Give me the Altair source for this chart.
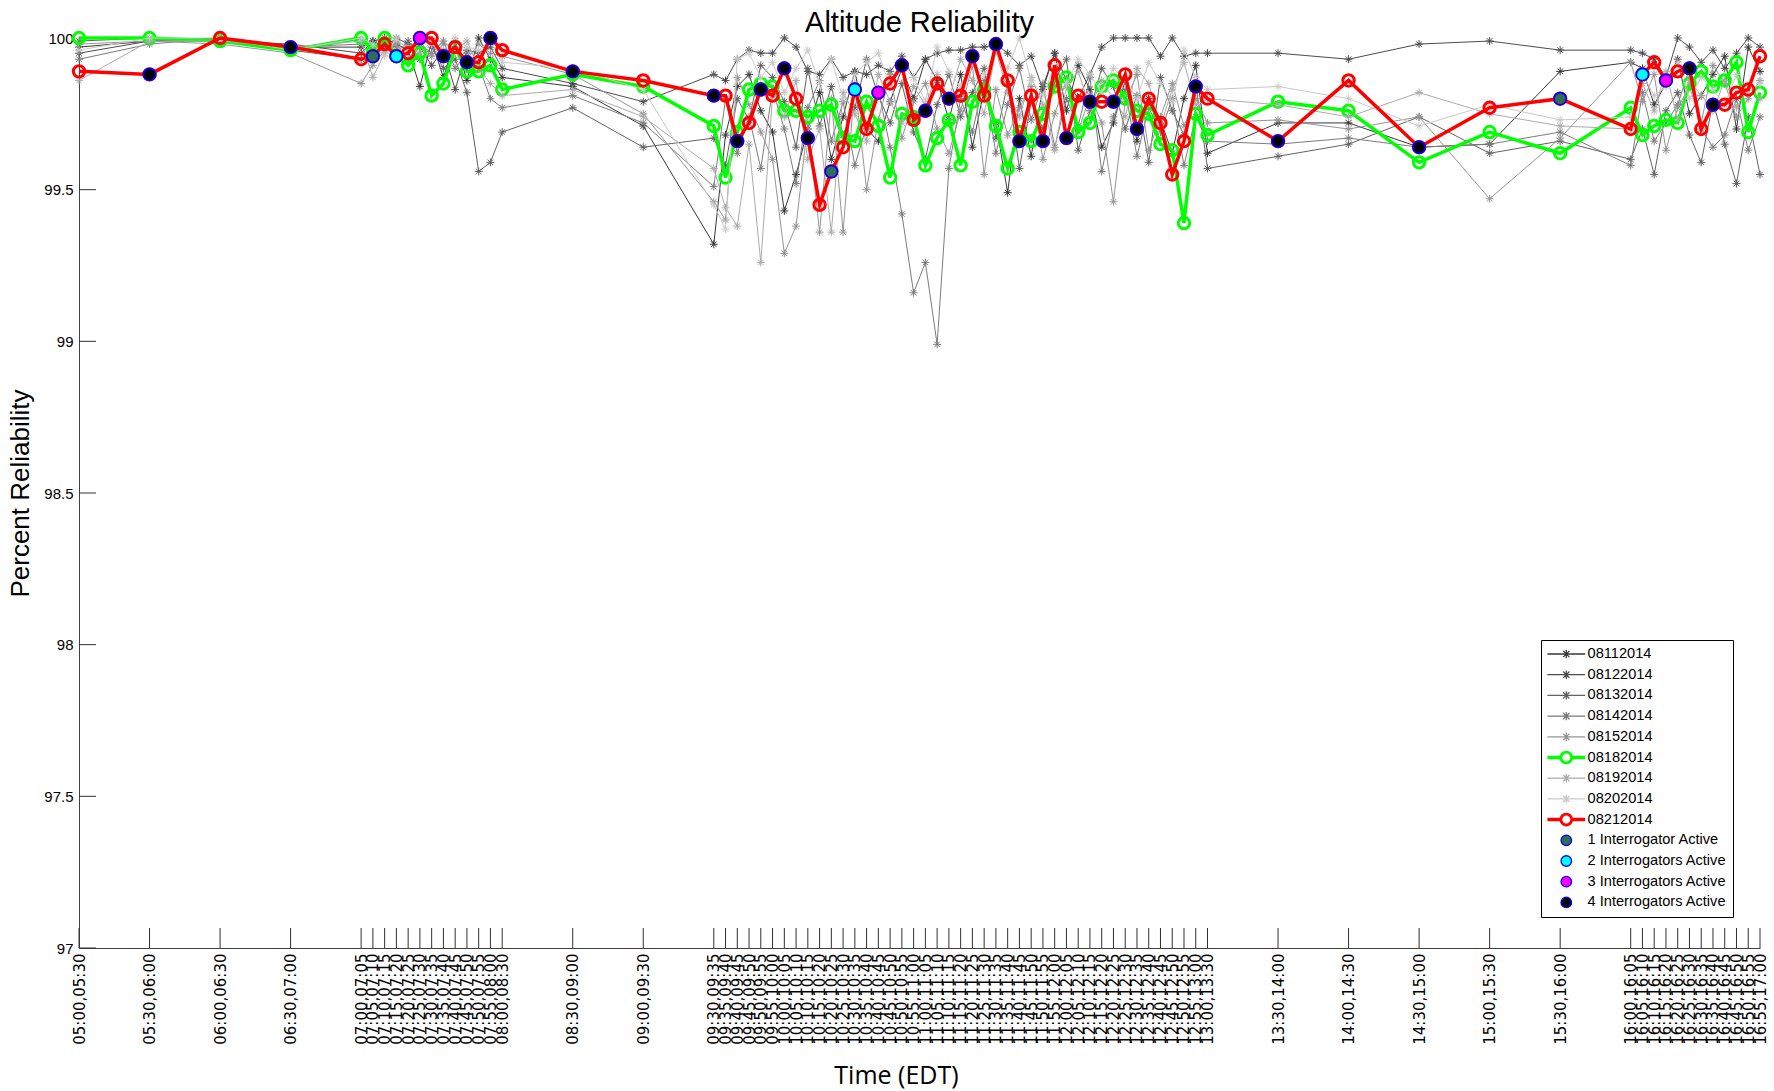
import altair as alt
import pandas as pd

# Interval boundaries on the time axis (EDT); each slot runs from one boundary to the next
boundaries = [
    "05:00", "05:30", "06:00", "06:30",
    "07:00", "07:05", "07:10", "07:15", "07:20", "07:25", "07:30", "07:35", "07:40", "07:45", "07:50", "07:55",
    "08:00", "08:30", "09:00",
    "09:30", "09:35", "09:40", "09:45", "09:50", "09:55",
    "10:00", "10:05", "10:10", "10:15", "10:20", "10:25", "10:30", "10:35", "10:40", "10:45", "10:50", "10:55",
    "11:00", "11:05", "11:10", "11:15", "11:20", "11:25", "11:30", "11:35", "11:40", "11:45", "11:50", "11:55",
    "12:00", "12:05", "12:10", "12:15", "12:20", "12:25", "12:30", "12:35", "12:40", "12:45", "12:50", "12:55",
    "13:00", "13:30", "14:00", "14:30", "15:00", "15:30",
    "16:00", "16:05", "16:10", "16:15", "16:20", "16:25", "16:30", "16:35", "16:40", "16:45", "16:50", "16:55",
    "17:00",
]

# Percent reliability per slot for each collection day
s08112014 = [99.97, 99.99, 100.0, 99.97,
             99.97, 99.99, 100.0, 99.98, 99.96, 99.84, 99.99, 99.87, 99.99, 99.86, 100.0, 99.93, 99.87,
             99.84, 99.71,
             99.32, 99.68, 99.84, 99.88, 99.76, 99.69, 99.43, 99.55, 99.70, 99.82,
             99.60, 99.74, 99.89, 99.70, 99.66, 99.79, 99.90, 99.80, 99.93, 99.86,
             99.73, 99.88, 99.64, 99.83, 99.72, 99.49, 99.80, 99.61, 99.84, 99.95,
             99.76, 99.91, 99.83, 99.64, 99.72, 99.86, 99.66, 99.80, 99.73, 99.62,
             99.80, 99.91,
             99.62, 99.72, 99.72, 99.64, 99.65, 99.89,
             99.92, 99.90, 99.78, 99.85, 99.93, 99.75, 99.81, 99.88, 99.94, 99.70, 99.97, 99.89]
s08122014 = [99.95, 99.99, 99.99, 99.98,
             99.95, 99.99, 99.97, 100.0, 99.98, 99.97, 99.91, 99.96, 99.83, 99.96, 99.95, 99.97, 99.90,
             99.85, 99.79,
             99.88, 99.86, 99.93, 99.96, 99.95, 99.95, 100.0, 99.97, 99.89, 99.88,
             99.93, 99.87, 99.89, 99.88, 99.91, 99.89, 99.94, 99.87, 99.93, 99.95,
             99.96, 99.96, 99.97, 99.97, 99.98, 99.95, 99.91, 99.94, 99.83, 99.95,
             99.86, 99.80, 99.88, 99.97, 100.0, 100.0, 100.0, 100.0, 99.94, 100.0,
             99.94, 99.95,
             99.95, 99.95, 99.93, 99.98, 99.99, 99.96,
             99.96, 99.95, 99.93, 99.87, 100.0, 99.97, 99.92, 99.96, 99.90, 99.95, 100.0, 99.97]
s08132014 = [99.99, 100.0, 99.99, 99.96,
             99.93, 99.96, 99.99, 99.95, 99.99, 99.93, 99.97, 99.90, 99.93, 99.82, 99.56, 99.59, 99.69,
             99.77, 99.64,
             99.67, 99.58, 99.80, 99.73, 99.91, 99.87, 99.79, 99.64, 99.90, 99.71,
             99.84, 99.68, 99.77, 99.93, 99.81, 99.72, 99.85, 99.69, 99.60, 99.78,
             99.88, 99.74, 99.82, 99.90, 99.67, 99.85, 99.57, 99.79, 99.70, 99.86,
             99.93, 99.63, 99.76, 99.90, 99.84, 99.70, 99.81, 99.59, 99.87, 99.76,
             99.68, 99.85,
             99.57, 99.61, 99.65, 99.74, 99.62, 99.66,
             99.60, 99.70, 99.55, 99.76, 99.82, 99.68, 99.59, 99.79, 99.65, 99.52, 99.74, 99.55]
s08142014 = [99.93, 99.98, 100.0, 99.97,
             99.98, 99.94, 99.98, 99.97, 99.93, 99.98, 99.95, 99.99, 99.90, 99.95, 99.91, 99.80, 99.77,
             99.81, 99.72,
             99.51, 99.80, 99.62, 99.74, 99.57, 99.83, 99.70, 99.52, 99.77, 99.86,
             99.66, 99.79, 99.58, 99.71, 99.83, 99.64, 99.42, 99.16, 99.26, 98.99,
             99.57, 99.80, 99.69, 99.86, 99.62, 99.78, 99.90, 99.73, 99.85, 99.64,
             99.80, 99.71, 99.87, 99.56, 99.74, 99.83, 99.61, 99.77, 99.69, 99.80,
             99.58, 99.74,
             99.66, 99.65, 99.67, 99.64, 99.65, 99.69,
             99.58, 99.82, 99.66, 99.72, 99.78, 99.90, 99.70, 99.64, 99.68, 99.80, 99.63, 99.74]
s08152014 = [99.98, 99.99, 99.98, 99.95,
             99.85, 99.91, 99.96, 99.98, 99.92, 99.99, 99.94, 99.98, 99.97, 99.93, 99.98, 99.95, 99.94,
             99.88, 99.75,
             99.46, 99.40, 99.87, 99.78, 99.69, 99.60, 99.29, 99.38, 99.72, 99.36,
             99.80, 99.36, 99.85, 99.50, 99.73, 99.88, 99.67, 99.79, 99.85, 99.70,
             99.62, 99.76, 99.91, 99.55, 99.83, 99.68, 99.77, 99.84, 99.60, 99.75,
             99.86, 99.69, 99.81, 99.72, 99.46, 99.79, 99.88, 99.63, 99.74, 99.85,
             99.71, 99.80,
             99.72, 99.73, 99.70, 99.74, 99.47, 99.67,
             99.92, 99.79, 99.88, 99.63, 99.77, 99.84, 99.72, 99.91, 99.85, 99.74, 99.80, 99.86]
s08182014 = [100.0, 100.0, 99.99, 99.96,
             100.0, 99.96, 100.0, 99.94, 99.91, 99.95, 99.81, 99.85, 99.97, 99.89, 99.89, 99.91, 99.83,
             99.88, 99.84,
             99.71, 99.54, 99.69, 99.83, 99.85, 99.84, 99.76, 99.76, 99.74, 99.76,
             99.78, 99.67, 99.66, 99.79, 99.71, 99.54, 99.75, 99.74, 99.58, 99.67,
             99.73, 99.58, 99.79, 99.83, 99.71, 99.57, 99.69, 99.66, 99.75, 99.84,
             99.87, 99.69, 99.72, 99.84, 99.86, 99.80, 99.76, 99.75, 99.65, 99.63,
             99.39, 99.75,
             99.68, 99.79, 99.76, 99.59, 99.69, 99.62,
             99.77, 99.68, 99.71, 99.73, 99.72, 99.85, 99.89, 99.84, 99.86, 99.92, 99.69, 99.82]
s08192014 = [99.86, 99.99, 99.99, 99.97,
             99.99, 99.87, 99.95, 99.99, 99.97, 99.95, 99.99, 99.93, 99.96, 99.99, 99.90, 99.85, 99.81,
             99.83, 99.74,
             99.57, 99.44, 99.38, 99.65, 99.26, 99.81, 99.74, 99.86, 99.60, 99.70,
             99.36, 99.82, 99.75, 99.66, 99.88, 99.79, 99.72, 99.84, 99.78, 99.88,
             99.80, 99.93, 99.86, 99.75, 99.96, 99.82, 99.74, 99.87, 99.78, 99.63,
             99.84, 99.89, 99.77, 99.86, 99.80, 99.74, 99.90, 99.85, 99.71, 99.83,
             99.92, 99.78,
             99.80, 99.78, 99.74, 99.82, 99.75, 99.71,
             99.70, 99.85, 99.76, 99.89, 99.73, 99.86, 99.81, 99.76, 99.86, 99.77, 99.84, 99.80]
s08202014 = [99.96, 100.0, 100.0, 99.96,
             100.0, 99.98, 99.94, 100.0, 99.96, 100.0, 99.98, 99.96, 100.0, 99.97, 99.96, 99.99, 99.92,
             99.90, 99.83,
             99.45, 99.37, 99.93, 99.95, 99.87, 99.92, 99.82, 99.90, 99.96, 99.85,
             99.93, 99.80, 99.88, 99.92, 99.95, 99.84, 99.91, 99.87, 99.79, 99.97,
             99.89, 99.84, 99.92, 99.88, 99.95, 99.90, 100.0, 99.86, 99.81, 99.91,
             99.85, 99.93, 99.88, 99.82, 99.90, 99.86, 99.80, 99.92, 99.85, 99.79,
             99.96, 99.87,
             99.83, 99.84, 99.80, 99.71, 99.78, 99.73,
             99.74, 99.88, 99.81, 99.84, 99.92, 99.80, 99.87, 99.83, 99.78, 99.88, 99.82, 99.85]
s08212014 = [99.89, 99.88, 100.0, 99.97,
             99.93, 99.94, 99.98, 99.94, 99.95, 100.0, 100.0, 99.94, 99.97, 99.92, 99.92, 100.0, 99.96,
             99.89, 99.86,
             99.81, 99.81, 99.66, 99.72, 99.83, 99.81, 99.90, 99.80, 99.67, 99.45,
             99.56, 99.64, 99.83, 99.70, 99.82, 99.85, 99.91, 99.73, 99.76, 99.85,
             99.80, 99.81, 99.94, 99.81, 99.98, 99.86, 99.66, 99.81, 99.66, 99.91,
             99.67, 99.81, 99.79, 99.79, 99.79, 99.88, 99.70, 99.80, 99.72, 99.55,
             99.66, 99.84,
             99.80, 99.66, 99.86, 99.64, 99.77, 99.80,
             99.70, 99.88, 99.92, 99.86, 99.89, 99.90, 99.70, 99.78, 99.78, 99.82, 99.83, 99.94]

# Number of interrogators active during each 08212014 slot (0 = not marked)
active_08212014 = [0, 4, 0, 4,
                   0, 1, 0, 2, 0, 3, 0, 4, 0, 4, 0, 4, 0,
                   4, 0,
                   4, 0, 4, 0, 4, 0, 4, 0, 4, 0,
                   1, 0, 2, 0, 3, 0,
                   4, 0, 4, 0, 4, 0, 4, 0, 4, 0, 4, 0, 4, 0, 4, 0, 4, 0, 4, 0, 4, 0,
                   0, 0,
                   0, 4, 0, 4, 0, 4,
                   0, 1, 0, 2, 0, 3, 0, 4, 0, 4, 0, 0]

series_names = ["08112014", "08122014", "08132014", "08142014", "08152014",
                "08182014", "08192014", "08202014", "08212014"]
series_values = [s08112014, s08122014, s08132014, s08142014, s08152014,
                 s08182014, s08192014, s08202014, s08212014]
series_colors = ["#383838", "#4c4c4c", "#626262", "#7c7c7c", "#959595",
                 "#00ff00", "#ababab", "#c9c9c9", "#ff0000"]
highlighted = {"08182014", "08212014"}

state_names = ["1 Interrogator Active", "2 Interrogators Active",
               "3 Interrogators Active", "4 Interrogators Active"]
state_colors = ["#2d6e55", "#00ffff", "#ff00ff", "#000000"]

y_ticks = [97, 97.5, 98, 98.5, 99, 99.5, 100]


def to_minutes(hhmm):
    h, m = hhmm.split(":")
    return int(h) * 60 + int(m)


slot_start = [to_minutes(b) for b in boundaries[:-1]]
slot_label = [f"{a},{b}" for a, b in zip(boundaries[:-1], boundaries[1:])]

rows = []
for name, vals in zip(series_names, series_values):
    for t, v in zip(slot_start, vals):
        rows.append({"series": name, "t": t, "pct": v})
df = pd.DataFrame(rows)

marks_df = pd.DataFrame([
    {"t": t, "pct": v, "state": state_names[n - 1]}
    for t, v, n in zip(slot_start, s08212014, active_08212014) if n > 0
])

W, H = 1681, 910

label_expr = ("[" + ",".join(f"'{s}'" for s in slot_label) + "]"
              "[indexof([" + ",".join(str(t) for t in slot_start) + "], datum.value)]")

x_scale = alt.Scale(domain=[slot_start[0], slot_start[-1]], nice=False, zero=False)
y_scale = alt.Scale(domain=[97, 100], nice=False, zero=False)

x_axis = alt.Axis(
    values=slot_start, labelExpr=label_expr, labelAngle=270, labelAlign="right",
    labelBaseline="middle", labelPadding=5, labelOverlap=False, labelFlush=False,
    labelFont="DejaVu Sans", labelFontSize=15, labelColor="black",
    ticks=False, grid=False, domainColor="#404040", domainWidth=1,
    title="Time (EDT)", titleFont="Open Sans", titleFontSize=25, titleFontWeight="normal",
    titleColor="black", titleX=817, titleY=127, titleAlign="center", titleBaseline="middle",
)
y_axis = alt.Axis(
    values=y_ticks, format="~g", labelPadding=6, labelFont="Liberation Sans",
    labelFontSize=15, labelColor="black", ticks=False, grid=False,
    domainColor="#404040", domainWidth=1,
    title="Percent Reliability", titleFont="Liberation Sans", titleFontSize=26,
    titleFontWeight="normal", titleColor="black", titleX=-59, titleY=H / 2,
    titleAngle=270, titleAlign="center", titleBaseline="middle",
)

x_enc = alt.X("t:Q", scale=x_scale, axis=x_axis)
y_enc = alt.Y("pct:Q", scale=y_scale, axis=y_axis)

# Asterisk marker for the grey days
STAR = "M0,-1L0,1M-1,0L1,0M-0.7,-0.7L0.7,0.7M-0.7,0.7L0.7,-0.7"
# Legend glyphs: line segment with the day's marker on it
LEG_STAR = "M-3.6,0H3.6M0,-0.8V0.8M-0.6,-0.6L0.6,0.6M-0.6,0.6L0.6,-0.6"
LEG_RING = ("M-3.6,-0.33H-1.15V0.33H-3.6Z"
            "M1.15,-0.33H3.6V0.33H1.15Z"
            "M1.3,0A1.3,1.3,0,1,1,-1.3,0A1.3,1.3,0,1,1,1.3,0Z"
            "M0.76,0A0.76,0.76,0,1,0,-0.76,0A0.76,0.76,0,1,0,0.76,0Z")

layers = []

# inward tick marks
layers.append(
    alt.Chart(pd.DataFrame({"t": slot_start})).mark_rule(color="#303030", strokeWidth=1)
    .encode(x=x_enc, y=alt.value(H), y2=alt.value(H - 20))
)
layers.append(
    alt.Chart(pd.DataFrame({"pct": y_ticks})).mark_rule(color="#303030", strokeWidth=1)
    .encode(y=y_enc, x=alt.value(0), x2=alt.value(17))
)

for name, color in zip(series_names, series_colors):
    sub = df[df["series"] == name]
    if name in highlighted:
        layers.append(alt.Chart(sub).mark_line(color=color, strokeWidth=3.5)
                      .encode(x=x_enc, y=y_enc))
        layers.append(alt.Chart(sub).mark_point(shape="circle", size=130, stroke=color,
                                                strokeWidth=3, filled=False, opacity=1)
                      .encode(x=x_enc, y=y_enc))
    else:
        layers.append(alt.Chart(sub).mark_line(color=color, strokeWidth=1)
                      .encode(x=x_enc, y=y_enc))
        layers.append(alt.Chart(sub).mark_point(shape=STAR, size=64, stroke=color,
                                                strokeWidth=1, filled=False, opacity=1)
                      .encode(x=x_enc, y=y_enc))

for state, fill in zip(state_names, state_colors):
    sub = marks_df[marks_df["state"] == state]
    if len(sub):
        layers.append(alt.Chart(sub).mark_point(shape="circle", size=150, fill=fill,
                                                stroke="#0000ff", strokeWidth=1.7,
                                                filled=True, opacity=1)
                      .encode(x=x_enc, y=y_enc))

# legend entries
entries = series_names + state_names
entry_stroke = [("transparent" if n in highlighted else c)
                for n, c in zip(series_names, series_colors)] + ["#0000ff"] * 4
entry_fill = [(c if n in highlighted else "transparent")
              for n, c in zip(series_names, series_colors)] + state_colors
entry_shape = [LEG_RING if n in highlighted else LEG_STAR for n in series_names] + ["circle"] * 4

legend = alt.Legend(
    title=None, orient="none", legendX=1462, legendY=602, direction="vertical",
    strokeColor="black", fillColor="white", padding=6, symbolSize=110,
    symbolOffset=12, labelOffset=14, rowPadding=4.7, clipHeight=16,
    symbolFillColor="white", symbolStrokeColor="black", symbolOpacity=1,
    symbolStrokeWidth=1.3,
    labelFont="Liberation Sans", labelFontSize=14.6, labelColor="black", labelLimit=300,
)
legend_df = pd.DataFrame({"entry": entries})
layers.append(
    alt.Chart(legend_df).mark_point(opacity=0, filled=True)
    .encode(
        x=alt.value(0), y=alt.value(0),
        stroke=alt.Stroke("entry:N", scale=alt.Scale(domain=entries, range=entry_stroke), legend=legend),
        fill=alt.Fill("entry:N", scale=alt.Scale(domain=entries, range=entry_fill), legend=legend),
        shape=alt.Shape("entry:N", scale=alt.Scale(domain=entries, range=entry_shape), legend=legend),
    )
)

chart = (
    alt.layer(*layers)
    .properties(
        width=W, height=H,
        title=alt.TitleParams("Altitude Reliability", font="Liberation Sans", fontSize=29,
                              fontWeight="normal", color="black", anchor="middle", offset=-12),
        padding={"left": 79, "top": 38, "right": 14, "bottom": 143},
        autosize=alt.AutoSizeParams(type="none"),
        background="white",
    )
    .configure_view(stroke="transparent")
)

chart.save("out.html", embed_options={"renderer": "svg", "actions": False})
